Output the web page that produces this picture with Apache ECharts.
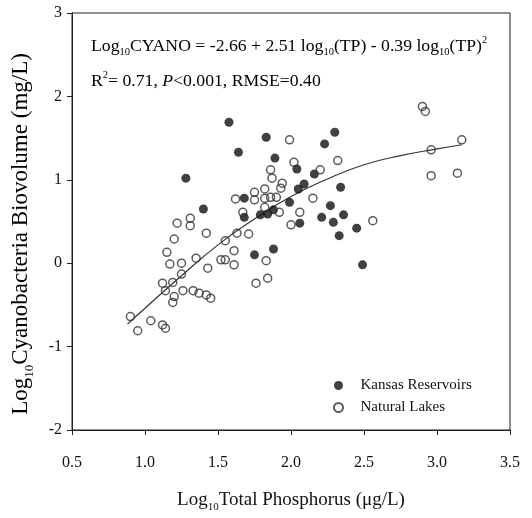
<!DOCTYPE html>
<html><head><meta charset="utf-8">
<script src="https://cdn.jsdelivr.net/npm/echarts@6/dist/echarts.min.js"></script>
<style>html,body{margin:0;padding:0;background:#fff}#c{width:532px;height:518px}</style>
</head><body><div id="c"></div>
<script>
const xTicks = [0.5, 1.0, 1.5, 2.0, 2.5, 3.0, 3.5];
const yTicks = [-2, -1, 0, 1, 2, 3];
const kansasX = [1.575,1.28,1.83,1.64,1.89,2.04,2.05,1.40,1.68,1.68,1.79,1.84,1.88,1.99,2.06,1.75,1.88,2.30,2.23,2.16,2.09,2.34,2.27,2.21,2.29,2.36,2.33,2.45,2.49];
const kansasY = [1.69,1.02,1.51,1.33,1.26,1.13,0.89,0.65,0.78,0.55,0.58,0.59,0.64,0.73,0.48,0.10,0.17,1.57,1.43,1.07,0.95,0.91,0.69,0.55,0.49,0.58,0.33,0.42,-0.02];
const lakesX = [1.99,2.02,1.86,1.87,1.94,1.93,1.82,1.75,1.62,1.82,1.86,1.90,1.75,1.82,1.67,1.92,1.22,1.31,1.31,1.42,1.20,1.63,1.71,1.55,2.00,2.06,1.15,1.35,1.61,1.83,1.17,1.25,1.52,1.55,1.61,1.43,1.76,1.84,1.25,1.12,1.19,1.14,1.20,1.19,1.26,1.33,1.37,1.42,1.45,0.90,0.95,1.04,1.12,1.14,2.20,2.32,2.15,2.56,2.90,2.92,2.96,3.17,2.96,3.14];
const lakesY = [1.48,1.21,1.12,1.02,0.96,0.90,0.89,0.85,0.77,0.78,0.79,0.79,0.76,0.67,0.61,0.61,0.48,0.54,0.45,0.36,0.29,0.36,0.35,0.27,0.46,0.61,0.13,0.06,0.15,0.03,-0.01,0.00,0.04,0.04,-0.02,-0.06,-0.24,-0.18,-0.13,-0.24,-0.23,-0.33,-0.40,-0.47,-0.33,-0.33,-0.36,-0.38,-0.42,-0.64,-0.81,-0.69,-0.74,-0.78,1.12,1.23,0.78,0.51,1.88,1.82,1.36,1.48,1.05,1.08];
const fitX = [0.88,1.0,1.25,1.5,1.75,2.0,2.25,2.5,2.75,3.0,3.17];
const fitY = [-0.73,-0.54,-0.15,0.22,0.53,0.80,1.01,1.18,1.29,1.37,1.42];

const FF = '"Liberation Serif", "Times New Roman", serif';
const zip = (a, b) => a.map((v, i) => [v, b[i]]);
function mkRich(fs, sub) {
  return {
    t: {fontFamily: FF, fontSize: fs, color: '#111', lineHeight: fs + 3},
    i: {fontFamily: FF, fontSize: fs, color: '#111', lineHeight: fs + 3, fontStyle: 'italic'},
    s: {fontFamily: FF, fontSize: sub, color: '#111', lineHeight: sub, padding: [Math.round(fs * 0.75), 0, 0, 0]},
    p: {fontFamily: FF, fontSize: sub, color: '#111', lineHeight: sub, padding: [0, 0, Math.round(fs * 0.65), 0]}
  };
}
const richEq = mkRich(17.7, 10.5);
const richX = mkRich(19, 11);
const richY = mkRich(23, 13);
const chart = echarts.init(document.getElementById('c'), null, {renderer: 'canvas'});
chart.setOption({
  animation: false,
  backgroundColor: '#fff',
  grid: {left: 72, right: 22, top: 13, bottom: 88, show: true, borderColor: '#222', borderWidth: 1},
  xAxis: {
    type: 'value', min: 0.5, max: 3.5, interval: 0.5,
    axisLine: {show: true, onZero: false, lineStyle: {color: '#222', width: 1}},
    axisTick: {show: true, inside: false, length: 5, lineStyle: {color: '#222'}},
    splitLine: {show: false},
    axisLabel: {fontFamily: FF, fontSize: 16, color: '#111', margin: 25,
      formatter: v => { const t = xTicks.find(x => Math.abs(x - v) < 1e-9); return t === undefined ? '' : t.toFixed(1); }},
    name: '{t|Log}{s|10}{t|Total Phosphorus (μg/L)}', nameLocation: 'middle', nameGap: 59,
    nameTextStyle: {rich: richX}
  },
  yAxis: {
    type: 'value', min: -2, max: 3, interval: 1,
    axisLine: {show: true, onZero: false, lineStyle: {color: '#222', width: 1}},
    axisTick: {show: true, inside: false, length: 5, lineStyle: {color: '#222'}},
    splitLine: {show: false},
    axisLabel: {fontFamily: FF, fontSize: 16, color: '#111', margin: 10,
      formatter: v => { const t = yTicks.find(x => Math.abs(x - v) < 1e-9); return t === undefined ? '' : String(t); }}
  },
  legend: {
    orient: 'vertical', left: 328, top: 373, itemGap: 7, itemWidth: 34, itemHeight: 9,
    textStyle: {fontFamily: FF, fontSize: 15, color: '#111'},
    data: ['Kansas Reservoirs', 'Natural Lakes']
  },
  graphic: [
    {type: 'text', left: 91, top: 34, style: {text: '{t|Log}{s|10}{t|CYANO = -2.66 + 2.51 log}{s|10}{t|(TP) - 0.39 log}{s|10}{t|(TP)}{p|2}', rich: richEq}},
    {type: 'text', left: 91, top: 70, style: {text: '{t|R}{p|2}{t|= 0.71, }{i|P}{t|<0.001, RMSE=0.40}', rich: richEq}},
    {type: 'text', x: 21, y: 234, rotation: Math.PI / 2,
      style: {text: '{t|Log}{s|10}{t|Cyanobacteria Biovolume (mg/L)}', rich: richY, align: 'center', verticalAlign: 'middle'}}
  ],
  series: [
    {name: 'Fit', type: 'line', data: zip(fitX, fitY), smooth: true, showSymbol: false,
      lineStyle: {color: '#333', width: 1.2}, z: 1, silent: true},
    {name: 'Natural Lakes', type: 'scatter', data: zip(lakesX, lakesY), symbol: 'circle', symbolSize: 8,
      itemStyle: {color: 'rgba(255,255,255,0)', borderColor: '#333', borderWidth: 1.5}, z: 3},
    {name: 'Kansas Reservoirs', type: 'scatter', data: zip(kansasX, kansasY), symbol: 'circle', symbolSize: 9,
      itemStyle: {color: '#111'}, z: 2}
  ]
});
</script></body></html>
